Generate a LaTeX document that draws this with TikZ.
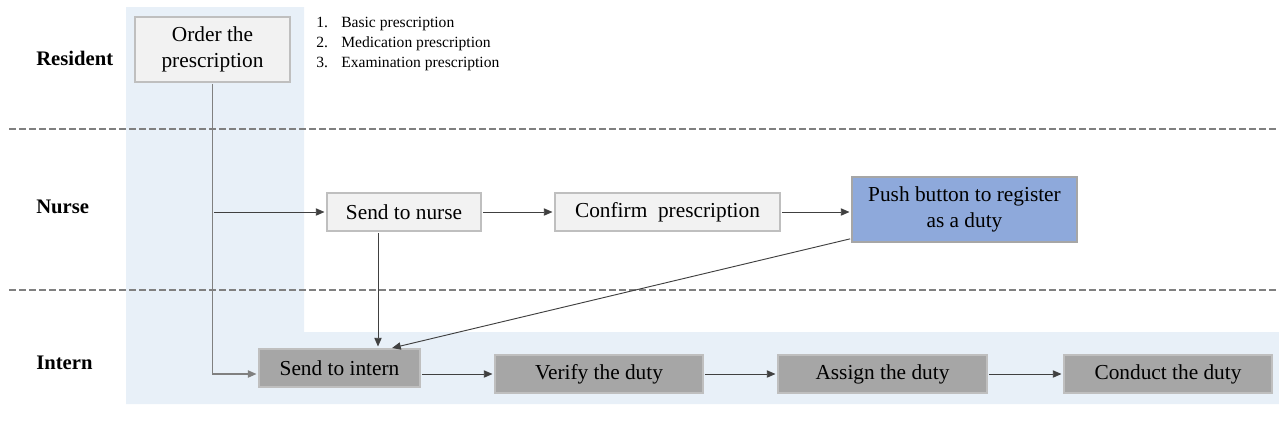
\documentclass[tikz,border=0pt]{standalone}
\usepackage{fontspec}
\setmainfont{Liberation Serif}
\usetikzlibrary{arrows.meta}

\definecolor{laneblue}{RGB}{232,240,248}
\definecolor{boxlight}{RGB}{242,242,242}
\definecolor{boxdark}{RGB}{166,166,166}
\definecolor{boxblue}{RGB}{142,169,219}
\definecolor{edgegray}{RGB}{191,191,191}

\begin{document}
\begin{tikzpicture}
    [x=0.75pt, y=-0.75pt,
    every node/.style={font=\fontsize{16}{19}\selectfont},
    lane/.style={font=\fontsize{15.5}{19}\selectfont\bfseries, anchor=west,
        inner sep=0pt},
    task/.style={draw=edgegray, line width=0.8pt, minimum height=28.5pt,
        inner sep=2pt, align=center},
    nursebox/.style={task, fill=boxlight},
    internbox/.style={task, fill=boxdark},
    dutybox/.style={task, fill=boxblue, draw=gray!70},
    flow/.style={-{Triangle[length=6.5pt,width=5.5pt]}, draw=black!75,
        line width=0.7pt, shorten >=1.5pt, shorten <=1pt},
    divider/.style={draw=gray, line width=1.5pt, dash pattern=on 5pt off 2.5pt}
    ]
    \useasboundingbox (0,0) rectangle (1279,444);

    % lanes
    \fill[laneblue] (126,7) -- (304,7) -- (304,332) -- (1279,332)
        -- (1279,404) -- (126,404) -- cycle;
    \draw[divider] (9,129) -- (1279,129);
    \draw[divider] (9,290) -- (1279,290);

    \node[lane] (resident) at (36,58) {Resident};
    \node[lane] (nurse) at (36,207) {Nurse};
    \node[lane] (intern) at (36,363) {Intern};

    % tasks
    \node[nursebox, minimum width=116.25pt, minimum height=48.75pt] (order)
        at (212.5,49.5) {Order the\\prescription};
    \node[anchor=north west, inner sep=0pt, align=left,
        font=\fontsize{11.7}{15}\selectfont] (kinds) at (316,17)
        {\makebox[18.75pt][l]{1.}Basic prescription\\
         \makebox[18.75pt][l]{2.}Medication prescription\\
         \makebox[18.75pt][l]{3.}Examination prescription};

    \node[nursebox, minimum width=115.5pt] (sendnur) at (404,212) {Send to nurse};
    \node[nursebox, minimum width=168.75pt] (confirm) at (667.5,212) {Confirm\ \ prescription};
    \node[dutybox, minimum width=168.75pt, minimum height=48.75pt] (push)
        at (964.5,209.5) {Push button to register\\as a duty};

    \node[internbox, minimum width=120.75pt] (sendint) at (339.5,368) {Send to intern};
    \node[internbox, minimum width=156pt] (verify) at (599,374) {Verify the duty};
    \node[internbox, minimum width=156.75pt] (assign) at (882.5,374) {Assign the duty};
    \node[internbox, minimum width=156pt] (conduct) at (1168,374) {Conduct the duty};

    % connectors
    \coordinate (drop) at ([xshift=-19.5pt]sendnur.south);
    \draw[flow, draw=gray, line width=1pt] (order.south) |- (sendint.west |- verify.west);
    \draw[flow] (order.south |- sendnur.west) -- (sendnur.west);
    \draw[flow] (sendnur) -- (confirm);
    \draw[flow] (confirm.east) -- (confirm.east -| push.west);
    \draw[flow] (drop) -- (drop |- sendint.north);
    \draw[flow] ([yshift=3pt]push.south west) -- ([xshift=38pt]sendint.north);
    \draw[flow] (verify.west -| sendint.east) -- (verify.west);
    \draw[flow] (verify) -- (assign);
    \draw[flow] (assign) -- (conduct);
\end{tikzpicture}
\end{document}
